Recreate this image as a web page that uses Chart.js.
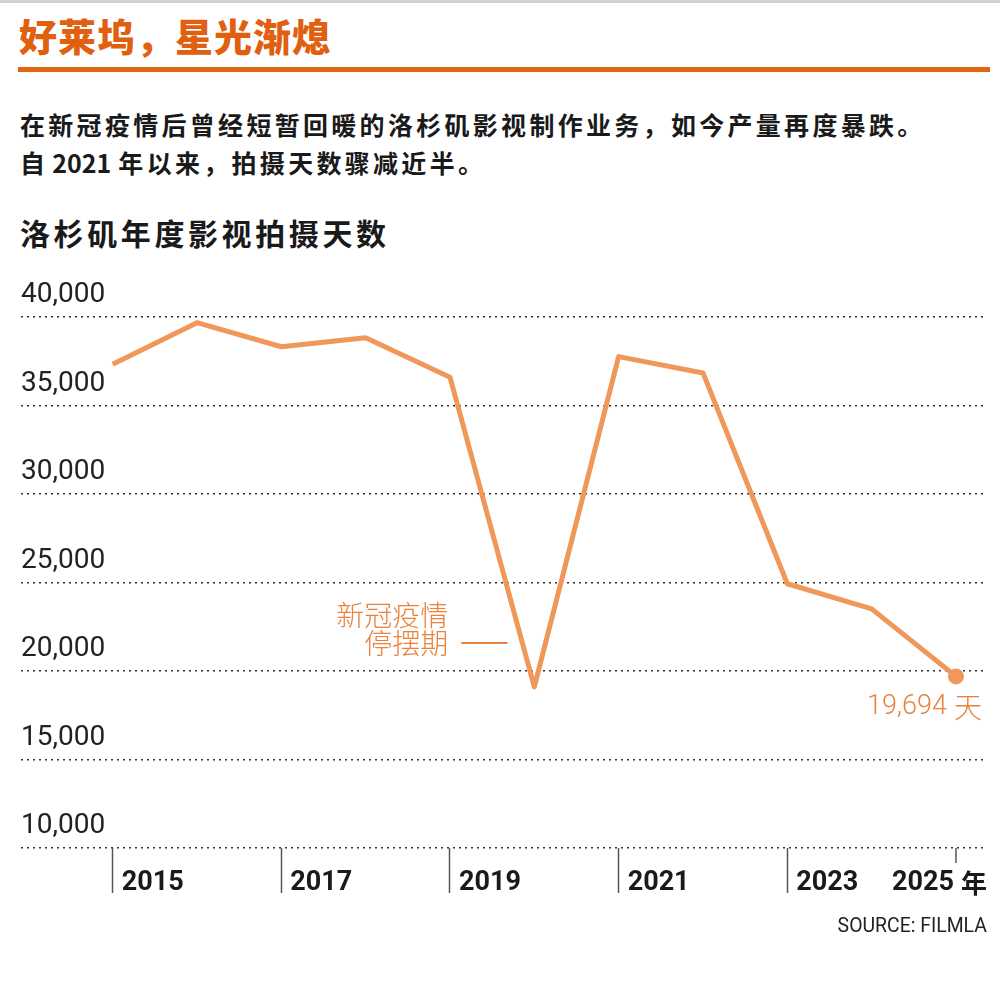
<!DOCTYPE html>
<html><head><meta charset="utf-8">
<script src="https://cdn.jsdelivr.net/npm/chart.js@4.4.1/dist/chart.umd.min.js"></script>
<style>
html,body{margin:0;padding:0;background:#fff;}
body{width:1000px;height:990px;position:relative;overflow:hidden;font-family:"Noto Sans CJK SC",sans-serif;}
#topbar{position:absolute;left:0;top:0;width:1000px;height:3px;background:#cfcfcf;}
#title{position:absolute;left:19px;top:15px;font-size:38px;line-height:40px;font-weight:900;color:#E0600F;white-space:nowrap;letter-spacing:1px;}
#rule{position:absolute;left:18px;top:67px;width:972px;height:5px;background:#E2640F;}
.sub{position:absolute;left:20px;font-size:25px;line-height:38px;font-weight:700;color:#1a1a1a;letter-spacing:3.3px;white-space:nowrap;}
.num{letter-spacing:0;margin:0 7px 0 4px;}
#ctitle{position:absolute;left:20px;top:212px;font-size:30px;line-height:40px;font-weight:700;color:#1a1a1a;letter-spacing:3.6px;white-space:nowrap;}
#source{position:absolute;right:13px;top:911px;font-family:Roboto,sans-serif;font-size:20px;line-height:28px;color:#222;transform:scaleX(0.97);transform-origin:right center;white-space:nowrap;}
#c{position:absolute;left:0;top:0;}
</style></head>
<body>
<div id="topbar"></div>
<div id="title">好莱坞，星光渐熄</div>
<div id="rule"></div>
<div class="sub" style="top:105px">在新冠疫情后曾经短暂回暖的洛杉矶影视制作业务，如今产量再度暴跌。</div>
<div class="sub" style="top:143px">自<span class="num">2021</span>年以来，拍摄天数骤减近半。</div>
<div id="ctitle">洛杉矶年度影视拍摄天数</div>
<canvas id="c" width="1000" height="990"></canvas>
<div id="source">SOURCE: FILMLA</div>
<script>
const years = [2015, 2016, 2017, 2018, 2019, 2020, 2021, 2022, 2023, 2024, 2025];
const shootDays = [37330, 39680, 38320, 38830, 36600, 19100, 37760, 36840, 24930, 23510, 19694];
const xTickYears = [2015, 2017, 2019, 2021, 2023, 2025];
const yTickValues = [10000, 15000, 20000, 25000, 30000, 35000, 40000];
const pauseLabel = ['新冠疫情', '停摆期'];
const lastValueText = '19,694';
const lastUnitText = '天';

const lineColor = '#F0975A';
const noteColor = '#E8823C';

const overlay = {
  id: 'overlay',
  afterDraw(chart) {
    const {ctx, chartArea} = chart;
    const xs = chart.scales.x, ys = chart.scales.y;
    ctx.save();
    const x25 = xs.getPixelForValue(2025);
    ctx.strokeStyle = '#555'; ctx.lineWidth = 1.5;
    ctx.beginPath(); ctx.moveTo(x25, chartArea.bottom); ctx.lineTo(x25, chartArea.bottom + 15); ctx.stroke();
    const ly = chartArea.bottom + 35;
    ctx.textBaseline = 'middle'; ctx.textAlign = 'right'; ctx.fillStyle = '#1a1a1a';
    const xr = x25 + 31;
    ctx.font = 'bold 26px "Noto Sans CJK SC"';
    ctx.fillText('年', xr, ly);
    const wN = ctx.measureText('年').width;
    ctx.font = 'bold 27px Roboto';
    ctx.fillText('2025', xr - wN - 7, ly);
    const i20 = years.indexOf(2020);
    const px = xs.getPixelForValue(2020), py = ys.getPixelForValue(shootDays[i20]);
    ctx.fillStyle = noteColor;
    ctx.font = '300 28px "Noto Sans CJK SC"';
    ctx.fillText(pauseLabel[0], px - 86, py - 72);
    ctx.fillText(pauseLabel[1], px - 86, py - 44);
    ctx.strokeStyle = noteColor; ctx.lineWidth = 2;
    ctx.beginPath(); ctx.moveTo(px - 73, py - 44); ctx.lineTo(px - 27, py - 44); ctx.stroke();
    const qx = xs.getPixelForValue(2025), qy = ys.getPixelForValue(shootDays[shootDays.length - 1]);
    ctx.textAlign = 'right';
    ctx.font = '300 28px "Noto Sans CJK SC"';
    ctx.fillText(lastUnitText, qx + 26, qy + 31);
    const wT = ctx.measureText(lastUnitText).width;
    ctx.font = '300 27px Roboto';
    ctx.fillText(lastValueText, qx + 26 - wT - 7, qy + 31);
    ctx.restore();
  }
};

new Chart(document.getElementById('c'), {
  type: 'line',
  data: {
    datasets: [{
      data: years.map((y, i) => ({x: y, y: shootDays[i]})),
      borderColor: lineColor,
      backgroundColor: lineColor,
      borderWidth: 5,
      borderJoinStyle: 'round',
      tension: 0,
      pointRadius: ctx => ctx.dataIndex === years.length - 1 ? 8 : 0,
      pointHoverRadius: 0,
      pointBorderWidth: 0,
      fill: false
    }]
  },
  options: {
    responsive: false,
    animation: false,
    events: [],
    layout: {padding: {left: 21, right: 13, top: 317, bottom: 82}},
    plugins: {legend: {display: false}, tooltip: {enabled: false}, title: {display: false}},
    scales: {
      x: {
        type: 'linear', min: 2013.913, max: 2025.368,
        afterBuildTicks: s => { s.ticks = xTickYears.map(v => ({value: v})); },
        afterFit: s => { s.height = 60; },
        grid: {display: true, drawOnChartArea: false, drawTicks: true, tickLength: 45, tickWidth: 1.5,
               tickColor: c => (c.tick && c.tick.value === 2025) ? 'rgba(0,0,0,0)' : '#555'},
        border: {display: false},
        ticks: {autoSkip: false, maxRotation: 0, minRotation: 0, align: 'start', labelOffset: 9, padding: -26,
                font: {family: 'Roboto', size: 27, weight: 'bold'}, color: '#1a1a1a',
                callback: v => v === 2025 ? '' : String(v)}
      },
      y: {
        min: 10000, max: 40000,
        afterBuildTicks: s => { s.ticks = yTickValues.map(v => ({value: v})); },
        afterFit: s => { s.width = 0; },
        grid: {color: '#333', lineWidth: 1.5, drawTicks: false},
        border: {display: false, dash: [2, 4]},
        ticks: {mirror: true, padding: 0, labelOffset: -22,
                font: {family: 'Roboto', size: 28}, color: '#222',
                callback: v => v.toLocaleString('en-US')}
      }
    }
  },
  plugins: [overlay]
});
</script>
</body></html>
